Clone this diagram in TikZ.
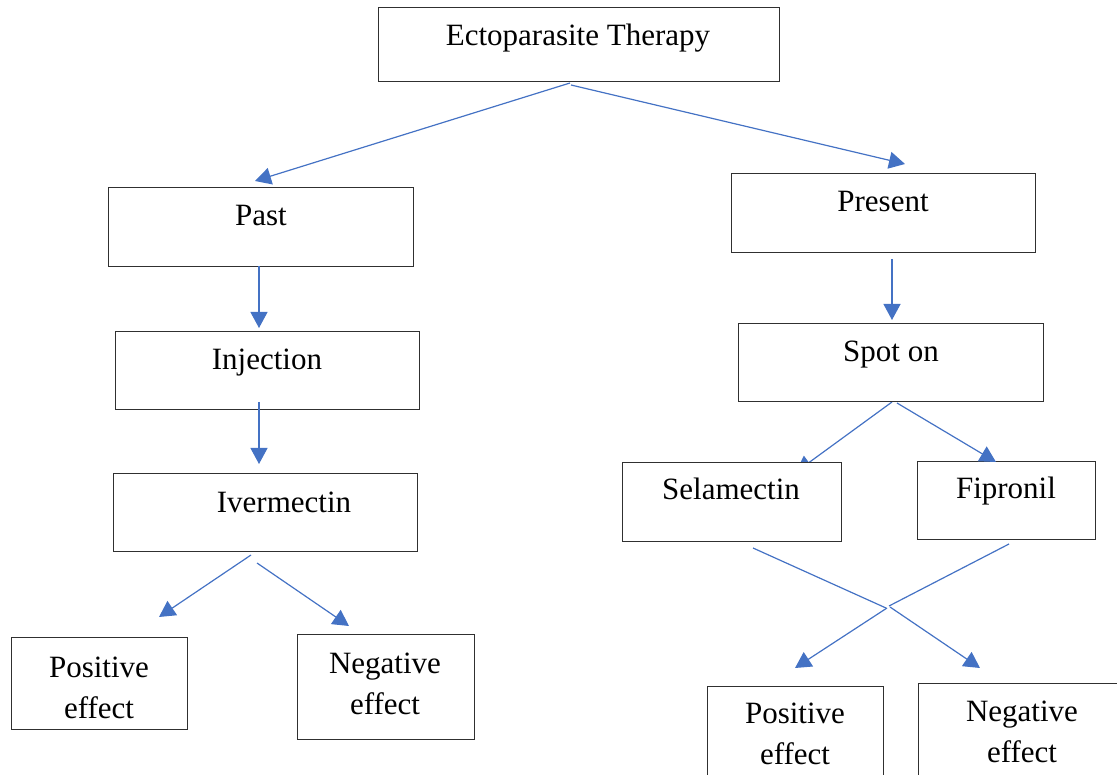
\documentclass[tikz,border=0pt]{standalone}
\usepackage{fontspec}
\setmainfont{Liberation Serif}
\usetikzlibrary{arrows.meta,calc}
\definecolor{arrblue}{HTML}{4472C4}
\definecolor{boxgray}{HTML}{303030}
\begin{document}
\begin{tikzpicture}[x=1pt,y=-1pt,
  box/.style={draw=boxgray,line width=1.4pt,fill=white,rectangle,inner sep=0pt,anchor=north west},
  txt/.style={inner sep=0pt,anchor=base,font=\fontsize{31}{41}\selectfont},
  arr/.style={draw=arrblue,line width=1.2pt,-{Triangle[width=17pt,length=16pt,fill=arrblue]}},
  ln/.style={draw=arrblue,line width=1.2pt}]
\useasboundingbox (0,0) rectangle (1117,775);

% arrow hidden behind the Selamectin box
\coordinate (s1s) at (892,402);
\coordinate (s1e) at (796,472);
\draw[arr] (s1s) -- (s1e);

% boxes
\node[box,minimum width=401pt,minimum height=74pt] (ecto) at (378,7) {};
\node[box,minimum width=305pt,minimum height=79pt] (past) at (108,187) {};
\node[box,minimum width=304pt,minimum height=79pt] (present) at (731,173) {};
\node[box,minimum width=304pt,minimum height=78pt] (inj) at (115,331) {};
\node[box,minimum width=305pt,minimum height=78pt] (spot) at (738,323) {};
\node[box,minimum width=304pt,minimum height=78pt] (iver) at (113,473) {};
\node[box,minimum width=219pt,minimum height=79pt] (sela) at (622,462) {};
\node[box,minimum width=178pt,minimum height=78pt] (fipr) at (917,461) {};
\node[box,minimum width=176pt,minimum height=92pt] (posL) at (11,637) {};
\node[box,minimum width=177pt,minimum height=105pt] (negL) at (297,634) {};
\node[box,minimum width=176pt,minimum height=110pt] (posR) at (707,686) {};
\node[box,minimum width=220pt,minimum height=110pt] (negR) at (918,683) {};

% texts
\node[txt] (tecto) at (578,46) {Ectoparasite Therapy};
\node[txt] (tpast) at (261,226) {Past};
\node[txt] (tpresent) at (883,212) {Present};
\node[txt] (tinj) at (267,370) {Injection};
\node[txt] (tspot) at (891,362) {Spot on};
\node[txt] (tiver) at (284,512) {Ivermectin};
\node[txt] (tsela) at (731,500) {Selamectin};
\node[txt] (tfipr) at (1006,499) {Fipronil};
\node[txt] (tposL) at (99,677) {\begin{tabular}[t]{@{}c@{}}Positive\\effect\end{tabular}};
\node[txt] (tnegL) at (385,673) {\begin{tabular}[t]{@{}c@{}}Negative\\effect\end{tabular}};
\node[txt] (tposR) at (795,723) {\begin{tabular}[t]{@{}c@{}}Positive\\effect\end{tabular}};
\node[txt] (tnegR) at (1022,721) {\begin{tabular}[t]{@{}c@{}}Negative\\effect\end{tabular}};

% connector end points
\coordinate (a1s) at (570,83);  \coordinate (a1e) at (255,181);
\coordinate (a2s) at (571,85);  \coordinate (a2e) at (905,164);
\coordinate (a3s) at (259,266); \coordinate (a3e) at (259,328);
\coordinate (a4s) at (892,259); \coordinate (a4e) at (892,320);
\coordinate (a5s) at (259,402); \coordinate (a5e) at (259,464);
\coordinate (a6s) at (897,403); \coordinate (a6e) at (996,462);
\coordinate (a7s) at (251,555); \coordinate (a7e) at (159,617);
\coordinate (a8s) at (257,563); \coordinate (a8e) at (349,626);
\coordinate (x1s) at (753,548); \coordinate (x1m) at (886,608);
\coordinate (x1n) at (890,607); \coordinate (x1e) at (980,668);
\coordinate (x2s) at (1009,544); \coordinate (x2m) at (889,606);
\coordinate (x2n) at (887,608); \coordinate (x2e) at (795,668);

\draw[arr] (a1s) -- (a1e);
\draw[arr] (a2s) -- (a2e);
\draw[arr] (a3s) -- (a3e);
\draw[arr] (a4s) -- (a4e);
\draw[arr] (a5s) -- (a5e);
\draw[arr] (a6s) -- (a6e);
\draw[arr] (a7s) -- (a7e);
\draw[arr] (a8s) -- (a8e);
\draw[ln] (x1s) -- (x1m);
\draw[arr] (x1n) -- (x1e);
\draw[ln] (x2s) -- (x2m);
\draw[arr] (x2n) -- (x2e);
\end{tikzpicture}
\end{document}
